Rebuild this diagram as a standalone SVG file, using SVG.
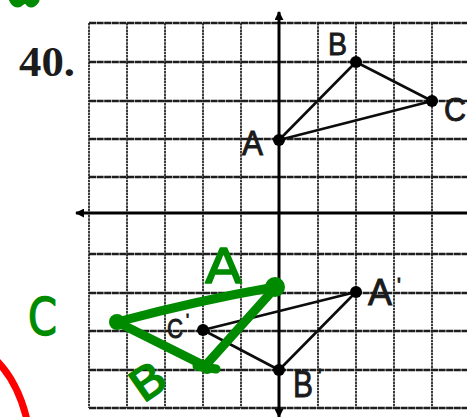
<svg xmlns="http://www.w3.org/2000/svg" width="467" height="417" viewBox="0 0 467 417">
  <defs>
    <style>
      .vg { stroke: #3c3c3c; stroke-width: 2; stroke-dasharray: 2.5 0.7; }
      .hg { stroke: #1e1e1e; stroke-width: 2.4; stroke-dasharray: 7 0.6; }
      .axis { stroke: #000; stroke-width: 3; fill: none; }
      .edge { stroke: #0c0c0c; stroke-width: 2.6; fill: none; stroke-linecap: round; }
      .dot { fill: #000; }
      .lbl { font-family: "Liberation Sans", "DejaVu Sans", sans-serif; fill: #1a1a1a; stroke: #1a1a1a; stroke-width: 0.9; }
      .g { stroke: #008a00; stroke-width: 9; fill: none; stroke-linecap: round; stroke-linejoin: round; }
      .gt { font-family: "DejaVu Sans", "Liberation Sans", sans-serif; fill: #008a00; stroke: #008a00; stroke-width: 1.5; stroke-linejoin: round; }
    </style>
    <marker id="ah" viewBox="0 0 10 10" refX="9" refY="5" markerWidth="3" markerHeight="3" orient="auto">
      <path d="M0,0 L10,5 L0,10 z" fill="#000"/>
    </marker>
  </defs>
  <rect width="467" height="417" fill="#fff"/>

  <text x="19" y="76" font-family="'Liberation Serif', serif" font-weight="bold" font-size="42" fill="#1c1c1c" textLength="56" lengthAdjust="spacingAndGlyphs">40.</text>

  <g id="grid">
    <line class="vg" x1="89" y1="23" x2="89" y2="408"/>
    <line class="vg" x1="127" y1="23" x2="127" y2="408"/>
    <line class="vg" x1="165" y1="23" x2="165" y2="408"/>
    <line class="vg" x1="203" y1="23" x2="203" y2="408"/>
    <line class="vg" x1="241" y1="23" x2="241" y2="408"/>
    <line class="vg" x1="318" y1="23" x2="318" y2="408"/>
    <line class="vg" x1="356" y1="23" x2="356" y2="408"/>
    <line class="vg" x1="394" y1="23" x2="394" y2="408"/>
    <line class="vg" x1="432" y1="23" x2="432" y2="408"/>
    <line class="hg" x1="89" y1="23" x2="467" y2="23"/>
    <line class="hg" x1="89" y1="62" x2="467" y2="62"/>
    <line class="hg" x1="89" y1="101" x2="467" y2="101"/>
    <line class="hg" x1="89" y1="139" x2="467" y2="139"/>
    <line class="hg" x1="89" y1="177" x2="467" y2="177"/>
    <line class="hg" x1="89" y1="254" x2="467" y2="254"/>
    <line class="hg" x1="89" y1="293" x2="467" y2="293"/>
    <line class="hg" x1="89" y1="331" x2="467" y2="331"/>
    <line class="hg" x1="89" y1="370" x2="467" y2="370"/>
    <line class="hg" x1="89" y1="408" x2="467" y2="408"/>
  </g>

  <g id="axes">
    <line class="axis" x1="467" y1="213" x2="76" y2="213" marker-end="url(#ah)"/>
    <line class="axis" x1="279" y1="213" x2="279" y2="12" marker-end="url(#ah)"/>
    <line class="axis" x1="279" y1="213" x2="279" y2="417" marker-end="url(#ah)"/>
  </g>

  <g id="connectors">
    <line class="edge" x1="279" y1="140" x2="356" y2="62"/>
    <line class="edge" x1="356" y1="62" x2="432" y2="101"/>
    <line class="edge" x1="432" y1="101" x2="279" y2="140"/>
    <line class="edge" x1="356" y1="292" x2="279" y2="370"/>
    <line class="edge" x1="279" y1="370" x2="203" y2="330"/>
    <line class="edge" x1="203" y1="330" x2="356" y2="292"/>
  </g>

  <g id="A"><circle class="dot" cx="279" cy="140" r="6"/><text class="lbl" x="242" y="155" font-size="35" textLength="21" lengthAdjust="spacingAndGlyphs">A</text></g>
  <g id="B"><circle class="dot" cx="356" cy="62" r="6"/><text class="lbl" x="328" y="55" font-size="31" textLength="19" lengthAdjust="spacingAndGlyphs">B</text></g>
  <g id="C"><circle class="dot" cx="432" cy="101" r="6"/><text class="lbl" x="444" y="121" font-size="33" textLength="22" lengthAdjust="spacingAndGlyphs">C</text></g>
  <g id="A-prime"><circle class="dot" cx="356" cy="292" r="6"/><text class="lbl" x="368" y="305" font-size="37" textLength="24" lengthAdjust="spacingAndGlyphs">A</text><text class="lbl" x="397" y="292" font-size="20">'</text></g>
  <g id="B-prime"><circle class="dot" cx="279" cy="370" r="6"/><text class="lbl" x="293" y="397" font-size="37" textLength="20" lengthAdjust="spacingAndGlyphs">B</text><text class="lbl" x="318" y="382" font-size="18">'</text></g>
  <g id="C-prime"><circle class="dot" cx="203" cy="330" r="6"/><text class="lbl" x="167" y="338" font-size="28" textLength="16" lengthAdjust="spacingAndGlyphs">C</text><text class="lbl" x="186" y="326" font-size="16">'</text></g>

  <g id="green-annotation">
    <path class="g" d="M117,322 Q200,300 275,287"/>
    <path class="g" d="M117,322 L205,366"/>
    <path class="g" d="M205,366 L275,288"/>
    <path class="g" d="M197,366 L216,369"/>
    <circle cx="117" cy="322" r="8" fill="#008a00"/>
    <circle cx="275" cy="287" r="10" fill="#008a00"/>
    <circle cx="207" cy="367" r="7" fill="#008a00"/>
    <text class="gt" x="205" y="283" font-size="48" textLength="37" lengthAdjust="spacingAndGlyphs">A</text>
    <text class="gt" x="28" y="335" font-size="52" textLength="29" lengthAdjust="spacingAndGlyphs">C</text>
    <text class="gt" x="0" y="0" font-size="44" textLength="34" lengthAdjust="spacingAndGlyphs" transform="translate(143,404) rotate(-35)">B</text>
    <path class="g" d="M13,-2 Q16,6 21,1 M28,-2 Q30,7 35,0" stroke-width="7"/>
  </g>

  <path d="M-4,360 Q18,382 27,420" stroke="#ff0000" stroke-width="7" fill="none"/>
</svg>
